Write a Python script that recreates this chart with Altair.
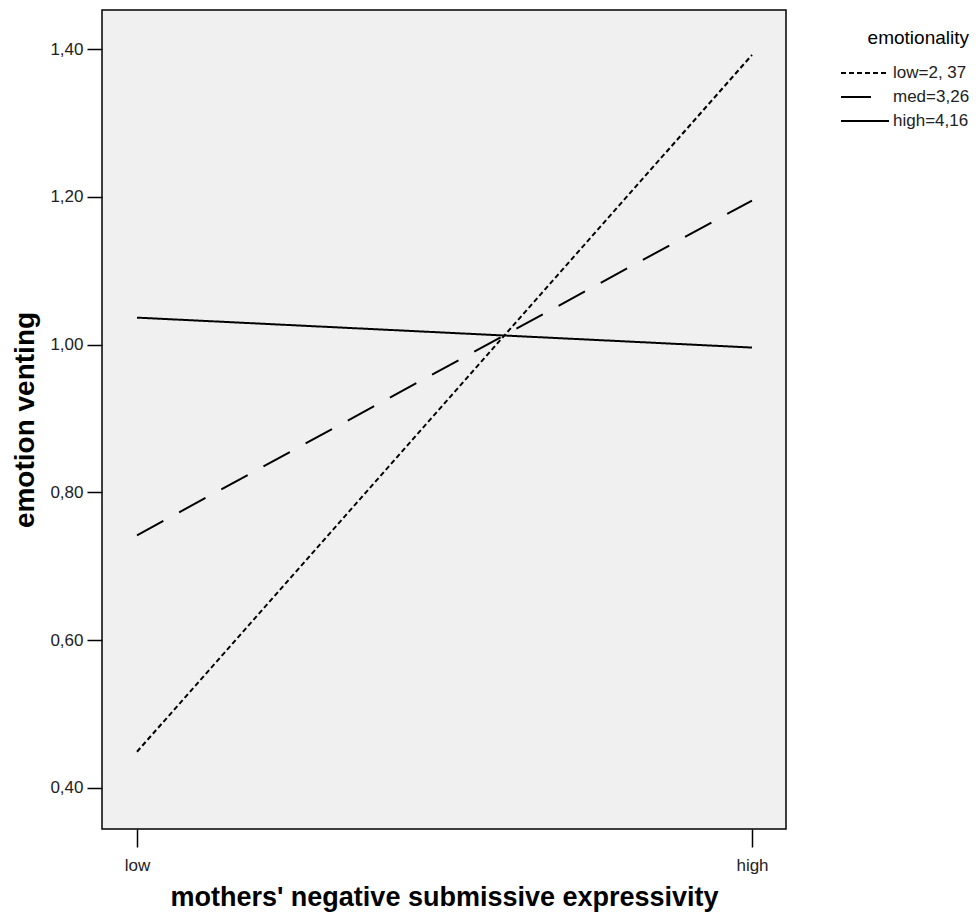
import altair as alt
import pandas as pd

levels = ["low", "high"]
x_pos = [0, 1]
series = ["low=2, 37", "med=3,26", "high=4,16"]
low_vals = [0.449, 1.392]
med_vals = [0.742, 1.195]
high_vals = [1.0365, 0.996]
y_ticks = [0.4, 0.6, 0.8, 1.0, 1.2, 1.4]

rows = []
for name, vals in zip(series, [low_vals, med_vals, high_vals]):
    for xp, lv, v in zip(x_pos, levels, vals):
        rows.append({"x": xp, "level": lv, "emotionality": name, "venting": v})
df = pd.DataFrame(rows)

FONT = "Liberation Sans"

chart = alt.Chart(df).mark_line(color="black", strokeWidth=2, clip=True).encode(
    x=alt.X("x:Q",
            scale=alt.Scale(domain=[-0.0569, 1.0553], nice=False, zero=False),
            axis=alt.Axis(values=x_pos, labelExpr="datum.value == 0 ? 'low' : 'high'",
                          title="mothers' negative submissive expressivity",
                          grid=False, domain=False, tickSize=18, tickWidth=1.5,
                          tickColor="black", labelPadding=10, labelFontSize=17,
                          labelColor="#222", labelFont=FONT, titleFont=FONT,
                          titleFontSize=27, titleFontWeight="bold", titleColor="black",
                          titlePadding=11)),
    y=alt.Y("venting:Q",
            scale=alt.Scale(domain=[0.3445, 1.4528], nice=False, zero=False),
            axis=alt.Axis(values=y_ticks,
                          labelExpr="replace(format(datum.value, '.2f'), '.', ',')",
                          title="emotion venting", grid=False, domain=False,
                          tickSize=15, tickWidth=1.5, tickColor="black",
                          labelPadding=4, labelFontSize=17, labelColor="#222",
                          labelFont=FONT, titleFont=FONT, titleFontSize=28,
                          titleFontWeight="bold", titleColor="black", titlePadding=10)),
    strokeDash=alt.StrokeDash("emotionality:N",
                              scale=alt.Scale(domain=series,
                                              range=[[5, 3], [30, 18], [1, 0]]),
                              sort=series,
                              legend=alt.Legend(orient="none", legendX=738, legendY=19,
                                                title="emotionality", titleFont=FONT,
                                                titleFontSize=19, titleFontWeight="normal",
                                                titleColor="black", titleAnchor="end",
                                                titlePadding=15,
                                                labelFont=FONT, labelFontSize=17,
                                                labelColor="#222", symbolType="stroke",
                                                symbolSize=2304, symbolStrokeWidth=2,
                                                symbolStrokeColor="black", labelOffset=3,
                                                clipHeight=20, rowPadding=4)),
).properties(
    width=684, height=819,
    autosize=alt.AutoSizeParams(type="none"),
    padding={"left": 94, "top": 2, "right": 186, "bottom": 85},
).configure(
    background="white"
).configure_view(
    fill="#f0f0f0", stroke="black", strokeWidth=1.5
)

chart.save("out.html", embed_options={"renderer": "svg", "actions": False})
